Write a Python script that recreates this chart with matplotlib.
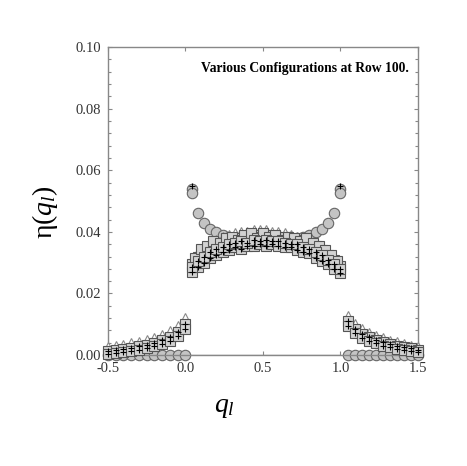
import matplotlib
matplotlib.use("Agg")
import matplotlib.pyplot as plt
from matplotlib.ticker import MultipleLocator

plt.rcParams["font.family"] = "Liberation Serif"
plt.rcParams["mathtext.fontset"] = "custom"
plt.rcParams["mathtext.rm"] = "Liberation Serif"
plt.rcParams["mathtext.it"] = "Liberation Serif:italic"

# left tail (q < 0) and right tail (q > 1)
x_left = [-0.5, -0.45, -0.4, -0.35, -0.3, -0.25, -0.2, -0.15, -0.1, -0.05, 0.0]
x_right = [1.05, 1.095, 1.14, 1.185, 1.23, 1.275, 1.32, 1.365, 1.41, 1.455, 1.5]
# central part
x_mid = [0.04, 0.08, 0.12, 0.16, 0.2, 0.24, 0.28, 0.32, 0.36, 0.4, 0.44, 0.48, 0.52,
         0.56, 0.6, 0.64, 0.68, 0.72, 0.76, 0.8, 0.84, 0.88, 0.92, 0.96, 1.0]
x_mid2 = [0.06, 0.1, 0.14, 0.18, 0.22, 0.26, 0.3, 0.34, 0.38, 0.42, 0.46, 0.5, 0.54,
          0.58, 0.62, 0.66, 0.7, 0.74, 0.78, 0.82, 0.86, 0.9, 0.94, 0.98]

circ_left = [0.0] * 11
circ_right = [0.0] * 11
circ_mid = [0.054, 0.046, 0.043, 0.041, 0.040, 0.039, 0.0385, 0.038, 0.038, 0.0375,
            0.037, 0.037, 0.037, 0.037, 0.037, 0.0375, 0.038, 0.038, 0.0385, 0.039,
            0.040, 0.041, 0.043, 0.046, 0.054]
circ2_x = [0.04, 1.0]
circ2_y = [0.0525, 0.0525]
plus_top_y = [0.0548, 0.0548]

tri_left = [0.0025, 0.003, 0.0034, 0.0038, 0.0043, 0.0049, 0.0056, 0.0065, 0.0077, 0.0094, 0.0120]
tri_right = [0.0128, 0.0102, 0.0085, 0.0072, 0.0062, 0.0054, 0.0047, 0.0041, 0.0036, 0.0031, 0.0027]
tri_mid = [0.031, 0.0335, 0.035, 0.0365, 0.0375, 0.0385, 0.039, 0.0395, 0.040, 0.040,
           0.0405, 0.0405, 0.0405, 0.040, 0.040, 0.0395, 0.039, 0.0385, 0.038, 0.037,
           0.036, 0.035, 0.0335, 0.032, 0.0295]

sqa_left = [0.0013, 0.0016, 0.0019, 0.0023, 0.0028, 0.0033, 0.0040, 0.0048, 0.0059, 0.0075, 0.0102]
sqa_right = [0.0110, 0.0086, 0.0070, 0.0058, 0.0049, 0.0042, 0.0036, 0.0031, 0.0026, 0.0022, 0.0018]
sqa_mid = [0.0295, 0.032, 0.0335, 0.035, 0.036, 0.0365, 0.0375, 0.037, 0.038, 0.0385,
           0.039, 0.0385, 0.039, 0.0385, 0.038, 0.0385, 0.0375, 0.037, 0.0375, 0.036,
           0.0355, 0.034, 0.0325, 0.031, 0.029]

sqb_left = [0.0005, 0.0008, 0.0011, 0.0014, 0.0018, 0.0023, 0.0029, 0.0036, 0.0046, 0.0061, 0.0086]
sqb_right = [0.0094, 0.0072, 0.0057, 0.0046, 0.0038, 0.0031, 0.0026, 0.0021, 0.0017, 0.0013, 0.0010]
sqb_mid = [0.027, 0.0285, 0.030, 0.0315, 0.0325, 0.0335, 0.034, 0.035, 0.0345, 0.0355,
           0.0355, 0.036, 0.0355, 0.036, 0.0355, 0.035, 0.035, 0.034, 0.0335, 0.033,
           0.0315, 0.0305, 0.0295, 0.028, 0.0265]

sqc_mid = [0.0285, 0.0305, 0.032, 0.0335, 0.0345, 0.035, 0.036, 0.0365, 0.037, 0.0365,
           0.0375, 0.037, 0.0375, 0.037, 0.037, 0.0365, 0.036, 0.036, 0.035, 0.0345,
           0.0335, 0.0325, 0.031, 0.0295, 0.028]

sqd_mid = [0.0315, 0.0345, 0.0355, 0.037, 0.0365, 0.038, 0.0385, 0.0375, 0.039, 0.0395,
           0.038, 0.0395, 0.0385, 0.039, 0.0375, 0.0385, 0.038, 0.037, 0.038, 0.0365,
           0.0355, 0.034, 0.0325, 0.0305]

x_ticks = [-0.5, 0.0, 0.5, 1.0, 1.5]
x_ticklabels = ["-0.5", "0.0", "0.5", "1.0", "1.5"]
y_ticks = [0.0, 0.02, 0.04, 0.06, 0.08, 0.10]
y_ticklabels = ["0.00", "0.02", "0.04", "0.06", "0.08", "0.10"]

fig = plt.figure(figsize=(4.67, 4.66), dpi=100)
ax = fig.add_axes([0.231, 0.238, 0.664, 0.661])

gray_line = "#999999"
ax.plot([0.0, 1.0], [0.0, 0.0], color=gray_line, lw=1.0, zorder=1)

circ = dict(marker="o", ms=7.5, mfc="#c4c4c4", mec="#666666", mew=0.8, ls="none",
            zorder=2, clip_on=False)
ax.plot(x_left, circ_left, **circ)
ax.plot(x_right, circ_right, **circ)
ax.plot(x_mid, circ_mid, **circ)
ax.plot(circ2_x, circ2_y, **circ)

tri = dict(marker="^", ms=6.5, mfc="white", mec="#8a8a8a", mew=0.8, ls="none",
           zorder=3, clip_on=False)
for xs, ys in [(x_left, tri_left), (x_right, tri_right), (x_mid, tri_mid)]:
    ax.plot(xs, ys, **tri)

sq = dict(marker="s", ms=6.5, mfc="#d2d2d2", mec="#555555", mew=0.8, ls="none",
          zorder=4, clip_on=False)
for xs, ys in [(x_left, sqa_left), (x_right, sqa_right), (x_mid, sqa_mid), (x_mid2, sqd_mid),
               (x_left, sqb_left), (x_right, sqb_right), (x_mid, sqb_mid), (x_mid, sqc_mid)]:
    ax.plot(xs, ys, **sq)

plus = dict(marker="+", ms=5, mec="black", mew=0.8, ls="none", zorder=5, clip_on=False)
for xs, ys in [(x_left, sqa_left), (x_right, sqa_right), (x_mid, sqb_mid), (x_mid, sqc_mid),
               (x_left, sqb_left), (x_right, sqb_right), (circ2_x, plus_top_y)]:
    ax.plot(xs, ys, **plus)

ax.set_xlim(-0.5, 1.5)
ax.set_ylim(0.0, 0.10)
ax.set_xticks(x_ticks)
ax.set_xticklabels(x_ticklabels)
ax.set_yticks(y_ticks)
ax.set_yticklabels(y_ticklabels)
ax.yaxis.set_minor_locator(MultipleLocator(0.004))
ax.tick_params(which="both", direction="in", top=True, right=True, color="#888888",
               labelsize=10.5, labelcolor="#333333", pad=5)
ax.tick_params(which="major", length=3, width=0.8)
ax.tick_params(which="minor", length=2, width=0.8, bottom=False, top=False)
for s in ax.spines.values():
    s.set_color("#888888")
    s.set_linewidth(1.0)

ax.text(0.97, 0.93, "Various Configurations at Row 100.", transform=ax.transAxes,
        ha="right", va="center", fontsize=9.8, fontweight="bold")

fig.text(0.097, 0.545, r"$\mathrm{η}(q_l)$", rotation=90, ha="center", va="center", fontsize=20)
fig.text(0.48, 0.125, r"$q_l$", ha="center", va="center", fontsize=20)

fig.savefig("out.png", dpi=100)
